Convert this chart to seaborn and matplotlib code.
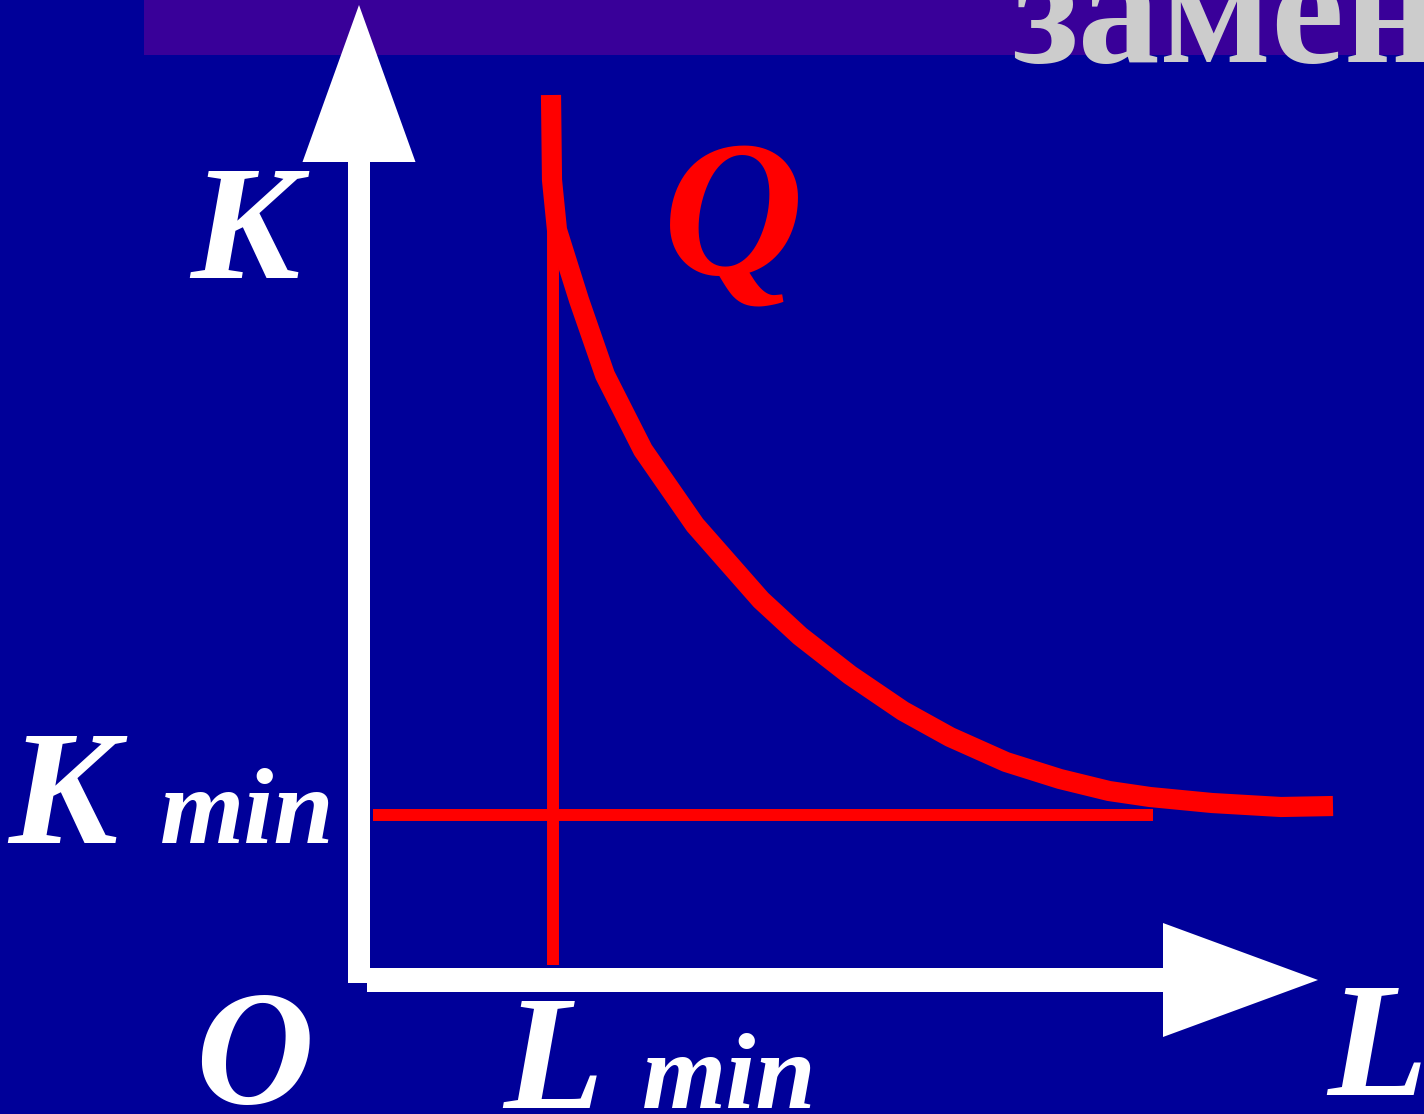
import matplotlib
matplotlib.use("Agg")
import matplotlib.pyplot as plt
import seaborn as sns
import pandas as pd
from matplotlib.patches import Rectangle

# ---- data (diagram units: L to the right, K upward, origin at axes corner) ----
L_curve = [191, 192, 197, 208, 219, 245, 283, 335, 401, 440, 490, 543, 590, 646, 700, 749, 790, 852, 921, 973]
K_curve = [885, 800, 750, 715, 680, 605, 530, 455, 380, 344, 305, 269, 243, 218, 201, 189, 183, 177, 173, 174]
L_min = 193
K_min = 165
L_min_line_K = [15, 770]
K_min_line_L = [13, 793]
title_text = "замен"
label_K = "K"
label_Kmin = ("K", "min")
label_O = "O"
label_Lmin = ("L", "min")
label_L = "L"
label_Q = "Q"

BG = "#000099"
BAND = "#390099"
RED = "#FF0000"
WHITE = "#FFFFFF"
GREY = "#CCCCCC"

sns.set_theme(style="white")
plt.rcParams["font.family"] = ["Liberation Serif"]
plt.rcParams["path.simplify"] = False

fig = plt.figure(figsize=(14.24, 11.14), dpi=100)
fig.patch.set_facecolor(BG)
ax = fig.add_axes([0, 0, 1, 1])
ax.set_facecolor(BG)

# header band and title
ax.add_patch(Rectangle((-216, 925), 1300, 60, color=BAND, zorder=0, lw=0))
ax.text(652, 918, title_text, color=GREY, fontsize=118, fontweight="bold",
        va="baseline", ha="left", zorder=1)

# axes arrows
ax.arrow(-1, -3, 0, 978, width=22, head_width=113, head_length=157,
         length_includes_head=True, color=WHITE, lw=0, zorder=3)
ax.arrow(7, 0, 951, 0, width=24, head_width=114, head_length=155,
         length_includes_head=True, color=WHITE, lw=0, zorder=3)

# L_min and K_min lines
ax.plot([L_min, L_min], L_min_line_K, color=RED, lw=8.6, solid_capstyle="butt", zorder=4)
ax.plot(K_min_line_L, [K_min, K_min], color=RED, lw=8.6, solid_capstyle="butt", zorder=4)

# isoquant curve
df = pd.DataFrame({"L": L_curve, "K": K_curve})
sns.lineplot(data=df, x="L", y="K", sort=False, color=RED, lw=14.5,
             ax=ax, zorder=5, legend=False)
ln = ax.lines[-1]
ln.set_solid_capstyle("butt")
ln.set_solid_joinstyle("round")

ax.set_xlim(-360, 1064)
ax.set_ylim(-134, 980)
ax.axis("off")

tkw = dict(color=WHITE, fontweight="bold", fontstyle="italic", va="baseline", ha="left", zorder=6)
ax.text(-170, 702, label_K, fontsize=118, **tkw)
ax.text(-352, 137, label_Kmin[0], fontsize=118, **tkw)
ax.text(-200, 137, label_Kmin[1], fontsize=78, **tkw)
ax.text(-165, -123, label_O, fontsize=118, **tkw)
ax.text(143, -128, label_Lmin[0], fontsize=118, **tkw)
ax.text(282, -128, label_Lmin[1], fontsize=78, **tkw)
ax.text(967, -115, label_L, fontsize=118, **tkw)
ax.text(303, 705, label_Q, fontsize=140, color=RED, fontweight="bold",
        fontstyle="italic", va="baseline", ha="left", zorder=6)

fig.savefig("out.png", dpi=100, facecolor=BG)
